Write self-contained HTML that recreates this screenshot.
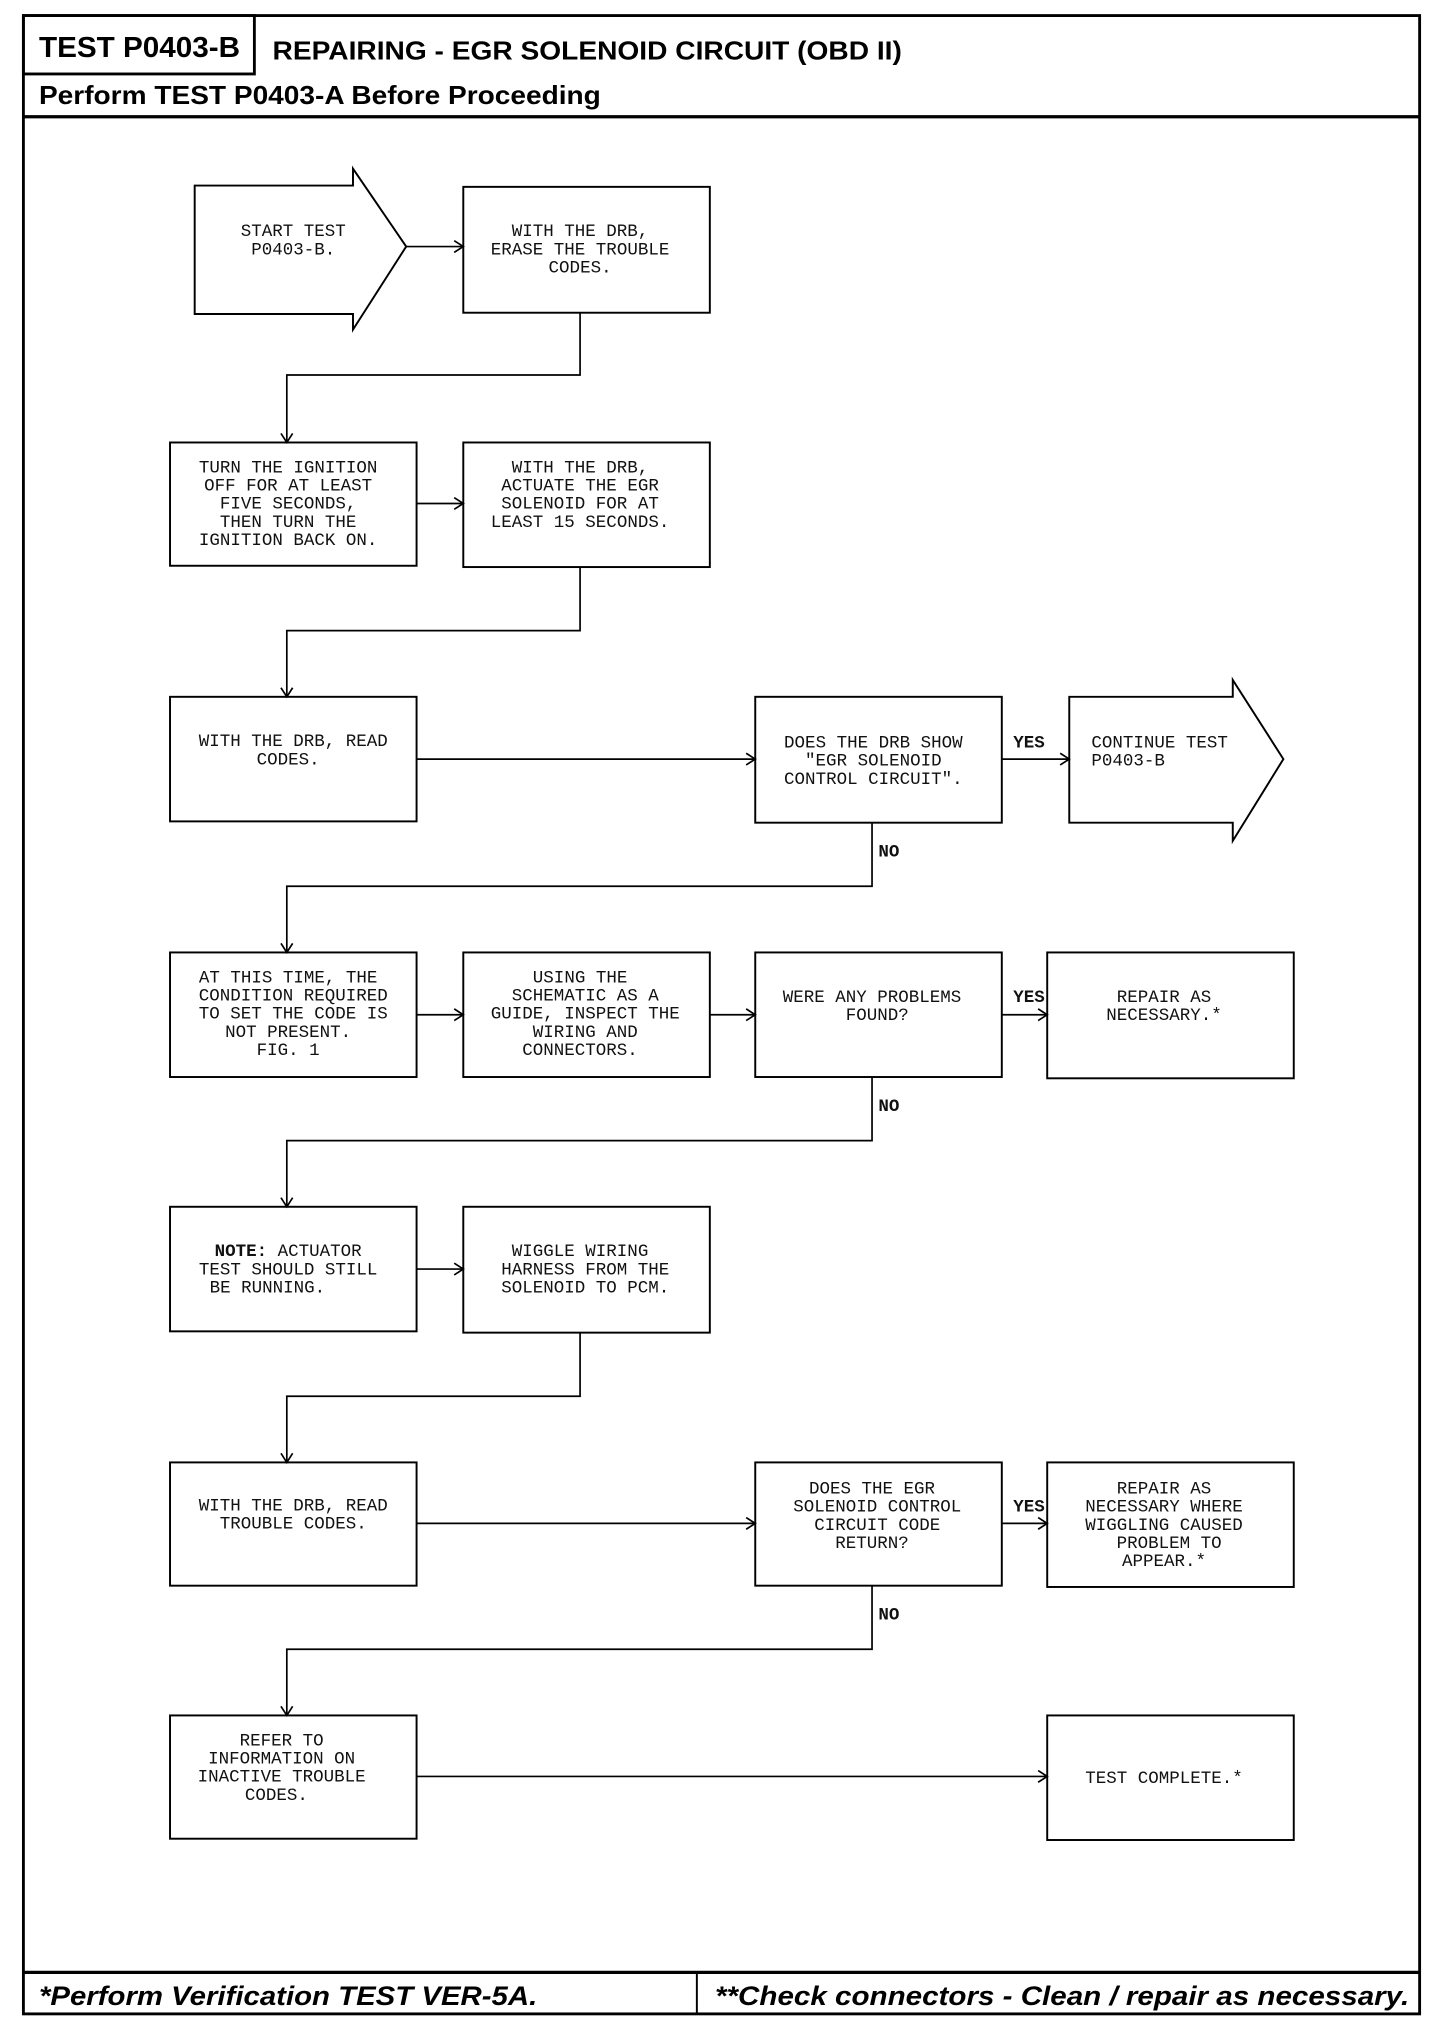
<!DOCTYPE html>
<html><head><meta charset="utf-8"><style>
html,body{margin:0;padding:0;background:#fff}
svg{display:block}
.t{font-family:"Liberation Mono",monospace;font-size:13.5px;text-anchor:middle;fill:#111}
.l{text-anchor:start}
.b{font-weight:bold}
.h{font-family:"Liberation Sans",sans-serif;font-weight:bold;fill:#000}
.f{font-family:"Liberation Sans",sans-serif;font-weight:bold;font-style:italic;fill:#000}
</style></head><body>
<svg width="1456" height="2034" viewBox="0 0 1122 1567.5" xmlns="http://www.w3.org/2000/svg">
<defs>
<marker id="a" markerWidth="12" markerHeight="12" refX="10" refY="5" orient="auto" markerUnits="userSpaceOnUse">
<polyline points="3,0.5 10,5 3,9.5" fill="none" stroke="#000" stroke-width="1.3"/>
</marker>
</defs>
<g fill="none" stroke="#000">
<rect x="18" y="12" width="1076" height="1540" stroke-width="2.2"/>
<rect x="18" y="12" width="178" height="45" stroke-width="2.2"/>
<line x1="18" y1="90" x2="1094" y2="90" stroke-width="2.5"/>
<line x1="18" y1="1520" x2="1094" y2="1520" stroke-width="2.5"/>
<line x1="537" y1="1520" x2="537" y2="1552" stroke-width="1.5"/>
</g>
<text class="h" x="30" y="44" font-size="22" textLength="155" lengthAdjust="spacingAndGlyphs">TEST P0403-B</text>
<text class="h" x="210" y="46" font-size="20" textLength="485" lengthAdjust="spacingAndGlyphs">REPAIRING - EGR SOLENOID CIRCUIT (OBD II)</text>
<text class="h" x="30" y="80" font-size="20" textLength="433" lengthAdjust="spacingAndGlyphs">Perform TEST P0403-A Before Proceeding</text>
<text class="f" x="30" y="1545" font-size="21" textLength="384" lengthAdjust="spacingAndGlyphs">*Perform Verification TEST VER-5A.</text>
<text class="f" x="551" y="1545" font-size="21" textLength="535" lengthAdjust="spacingAndGlyphs">**Check connectors - Clean / repair as necessary.</text>

<g fill="#fff" stroke="#000" stroke-width="1.5">
<polygon points="150,143 272,143 272,130 313,190 272,254 272,242 150,242"/>
<rect x="357" y="144" width="190" height="97"/>
<rect x="131" y="341" width="190" height="95"/>
<rect x="357" y="341" width="190" height="96"/>
<rect x="131" y="537" width="190" height="96"/>
<rect x="582" y="537" width="190" height="97"/>
<polygon points="824,537 950,537 950,524 989,585 950,648 950,634 824,634"/>
<rect x="131" y="734" width="190" height="96"/>
<rect x="357" y="734" width="190" height="96"/>
<rect x="582" y="734" width="190" height="96"/>
<rect x="807" y="734" width="190" height="97"/>
<rect x="131" y="930" width="190" height="96"/>
<rect x="357" y="930" width="190" height="97"/>
<rect x="131" y="1127" width="190" height="95"/>
<rect x="582" y="1127" width="190" height="95"/>
<rect x="807" y="1127" width="190" height="96"/>
<rect x="131" y="1322" width="190" height="95"/>
<rect x="807" y="1322" width="190" height="96"/>
</g>

<g fill="none" stroke="#000" stroke-width="1.3" marker-end="url(#a)">
<line x1="313" y1="190" x2="357" y2="190"/>
<polyline points="447,241 447,289 221,289 221,341"/>
<line x1="321" y1="388" x2="357" y2="388"/>
<polyline points="447,437 447,486 221,486 221,537"/>
<line x1="321" y1="585" x2="582" y2="585"/>
<line x1="772" y1="585" x2="824" y2="585"/>
<polyline points="672,634 672,683 221,683 221,734"/>
<line x1="321" y1="782" x2="357" y2="782"/>
<line x1="547" y1="782" x2="582" y2="782"/>
<line x1="772" y1="782" x2="807" y2="782"/>
<polyline points="672,830 672,879 221,879 221,930"/>
<line x1="321" y1="978" x2="357" y2="978"/>
<polyline points="447,1027 447,1076 221,1076 221,1127"/>
<line x1="321" y1="1174" x2="582" y2="1174"/>
<line x1="772" y1="1174" x2="807" y2="1174"/>
<polyline points="672,1222 672,1271 221,1271 221,1322"/>
<line x1="321" y1="1369" x2="807" y2="1369"/>
</g>

<g class="t">
<text class="t" x="226" y="182">START TEST</text>
<text class="t" x="226" y="196">P0403-B.</text>
<text class="t" x="447" y="182">WITH THE DRB,</text>
<text class="t" x="447" y="196">ERASE THE TROUBLE</text>
<text class="t" x="447" y="210">CODES.</text>

<text class="t" x="222" y="364">TURN THE IGNITION</text>
<text class="t" x="222" y="378">OFF FOR AT LEAST</text>
<text class="t" x="222" y="392">FIVE SECONDS,</text>
<text class="t" x="222" y="406">THEN TURN THE</text>
<text class="t" x="222" y="420">IGNITION BACK ON.</text>
<text class="t" x="447" y="364">WITH THE DRB,</text>
<text class="t" x="447" y="378">ACTUATE THE EGR</text>
<text class="t" x="447" y="392">SOLENOID FOR AT</text>
<text class="t" x="447" y="406">LEAST 15 SECONDS.</text>

<text class="t" x="226" y="575">WITH THE DRB, READ</text>
<text class="t" x="222" y="589">CODES.</text>
<text class="t" x="673" y="576">DOES THE DRB SHOW</text>
<text class="t" x="673" y="590">"EGR SOLENOID</text>
<text class="t" x="673" y="604">CONTROL CIRCUIT".</text>
<text class="t b" x="793" y="576">YES</text>
<text class="t l" x="841" y="576">CONTINUE TEST</text>
<text class="t l" x="841" y="590">P0403-B</text>
<text class="t b" x="685" y="660">NO</text>

<text class="t" x="222" y="757">AT THIS TIME, THE</text>
<text class="t" x="226" y="771">CONDITION REQUIRED</text>
<text class="t" x="226" y="785">TO SET THE CODE IS</text>
<text class="t" x="222" y="799">NOT PRESENT.</text>
<text class="t" x="222" y="813">FIG. 1</text>
<text class="t" x="447" y="757">USING THE</text>
<text class="t" x="451" y="771">SCHEMATIC AS A</text>
<text class="t" x="451" y="785">GUIDE, INSPECT THE</text>
<text class="t" x="451" y="799">WIRING AND</text>
<text class="t" x="447" y="813">CONNECTORS.</text>
<text class="t" x="672" y="772">WERE ANY PROBLEMS</text>
<text class="t" x="676" y="786">FOUND?</text>
<text class="t b" x="793" y="772">YES</text>
<text class="t" x="897" y="772">REPAIR AS</text>
<text class="t" x="897" y="786">NECESSARY.*</text>
<text class="t b" x="685" y="856">NO</text>

<text class="t" x="222" y="968"><tspan class="b">NOTE:</tspan> ACTUATOR</text>
<text class="t" x="222" y="982">TEST SHOULD STILL</text>
<text class="t" x="206" y="996">BE RUNNING.</text>
<text class="t" x="447" y="968">WIGGLE WIRING</text>
<text class="t" x="451" y="982">HARNESS FROM THE</text>
<text class="t" x="451" y="996">SOLENOID TO PCM.</text>

<text class="t" x="226" y="1164">WITH THE DRB, READ</text>
<text class="t" x="226" y="1178">TROUBLE CODES.</text>
<text class="t" x="672" y="1151">DOES THE EGR</text>
<text class="t" x="676" y="1165">SOLENOID CONTROL</text>
<text class="t" x="676" y="1179">CIRCUIT CODE</text>
<text class="t" x="672" y="1193">RETURN?</text>
<text class="t b" x="793" y="1165">YES</text>
<text class="t" x="897" y="1151">REPAIR AS</text>
<text class="t" x="897" y="1165">NECESSARY WHERE</text>
<text class="t" x="897" y="1179">WIGGLING CAUSED</text>
<text class="t" x="901" y="1193">PROBLEM TO</text>
<text class="t" x="897" y="1207">APPEAR.*</text>
<text class="t b" x="685" y="1248">NO</text>

<text class="t" x="217" y="1345">REFER TO</text>
<text class="t" x="217" y="1359">INFORMATION ON</text>
<text class="t" x="217" y="1373">INACTIVE TROUBLE</text>
<text class="t" x="213" y="1387">CODES.</text>
<text class="t" x="897" y="1374">TEST COMPLETE.*</text>
</g>
</svg>
</body></html>
